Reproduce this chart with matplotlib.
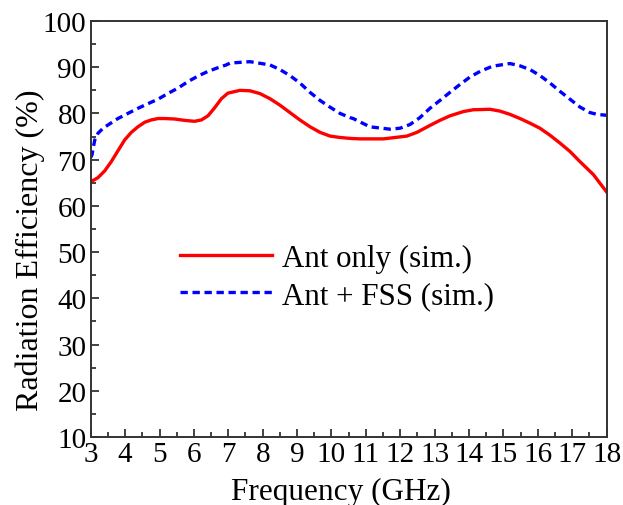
import numpy as np
import matplotlib.pyplot as plt
from matplotlib.ticker import MultipleLocator

plt.rcParams['font.family'] = ['Liberation Serif', 'DejaVu Serif']

# Ant only (sim.)
freq_ant = [3.0, 3.21, 3.41, 3.6, 3.79, 3.99, 4.18, 4.37, 4.57, 4.76, 4.96, 5.15,
            5.44, 5.73, 6.02, 6.22, 6.41, 6.6, 6.8, 6.99, 7.05, 7.34, 7.63, 7.92,
            8.21, 8.5, 8.79, 9.08, 9.38, 9.67, 9.96, 10.25, 10.54, 10.83, 11.51,
            12.19, 12.48, 12.86, 13.15, 13.45, 13.83, 14.12, 14.61, 14.9, 15.19,
            15.48, 15.77, 16.06, 16.35, 16.64, 16.93, 17.22, 17.61, 18.0]
eff_ant = [65.2, 66.1, 67.6, 69.6, 71.9, 74.3, 75.9, 77.1, 78.1, 78.6, 78.9, 78.9,
           78.8, 78.5, 78.3, 78.6, 79.5, 81.2, 83.2, 84.4, 84.5, 85.0, 84.9, 84.3,
           83.2, 81.8, 80.2, 78.6, 77.1, 75.9, 75.1, 74.8, 74.6, 74.5, 74.5,
           75.1, 75.9, 77.4, 78.5, 79.5, 80.4, 80.8, 80.9, 80.5, 79.8,
           78.9, 77.9, 76.8, 75.3, 73.6, 71.8, 69.6, 66.8, 63.0]

# Ant + FSS (sim.)
freq_fss = [3.0, 3.04, 3.07, 3.12, 3.21, 3.36, 3.5, 3.79, 4.08, 4.37, 4.66, 4.96,
            5.24, 5.54, 5.83, 6.12, 6.41, 6.7, 6.94, 7.05, 7.63, 8.21, 8.5, 8.79,
            9.08, 9.37, 9.67, 9.95, 10.25, 10.54, 10.63, 11.12, 11.7, 11.99, 12.28,
            12.57, 12.86, 13.15, 13.45, 13.74, 14.03, 14.32, 14.61, 14.75, 15.19,
            15.48, 15.77, 16.06, 16.35, 16.64, 16.93, 17.22, 17.51, 17.72, 18.0]
eff_fss = [70.5, 71.1, 72.5, 74.3, 75.7, 76.8, 77.5, 78.9, 80.0, 81.1, 82.1, 83.1,
           84.3, 85.5, 86.9, 88.1, 89.1, 89.9, 90.5, 90.9, 91.2, 90.5, 89.5, 88.2,
           86.6, 84.6, 82.8, 81.4, 80.0, 79.1, 78.9, 77.1, 76.6, 76.8, 77.6,
           79.1, 81.1, 82.8, 84.6, 86.3, 87.9, 89.1, 90.0, 90.3, 90.8,
           90.3, 89.5, 88.2, 86.6, 84.8, 83.1, 81.4, 80.2, 79.8, 79.6]

fig = plt.figure(figsize=(6.23, 5.06), dpi=100)
ax = fig.add_axes([0.1456, 0.1344, 0.8282, 0.8221])

ax.plot(freq_ant, eff_ant, color='red', lw=2.4, label='Ant only (sim.)')
ax.plot(freq_fss, eff_fss, color='blue', lw=2.4, dashes=(2.2, 1.4),
        label='Ant + FSS (sim.)')

ax.set_xlim(3, 18)
ax.set_ylim(10, 100)
ax.xaxis.set_major_locator(MultipleLocator(1))
ax.xaxis.set_minor_locator(MultipleLocator(0.5))
ax.yaxis.set_major_locator(MultipleLocator(10))
ax.yaxis.set_minor_locator(MultipleLocator(5))
ax.tick_params(which='both', direction='in', labelsize=21, pad=3,
               top=False, right=False, color='#222222')
ax.tick_params(which='major', length=6, width=1.2)
ax.tick_params(which='minor', length=3.5, width=1.2)
for s in ax.spines.values():
    s.set_linewidth(1.4)
    s.set_color('#333333')

ax.set_xlabel('Frequency (GHz)', fontsize=22.5)
ax.xaxis.set_label_coords(0.485, -0.095)
ax.set_ylabel('Radiation Efficiency (%)', fontsize=23)
ax.yaxis.set_label_coords(-0.088, 0.452)

ax.legend(loc='center left', bbox_to_anchor=(0.173, 0.385), frameon=False,
          fontsize=22.3, handlelength=2.97, handletextpad=0.32, labelspacing=0.25,
          borderaxespad=0, borderpad=0)

fig.savefig('out.png', dpi=100)
